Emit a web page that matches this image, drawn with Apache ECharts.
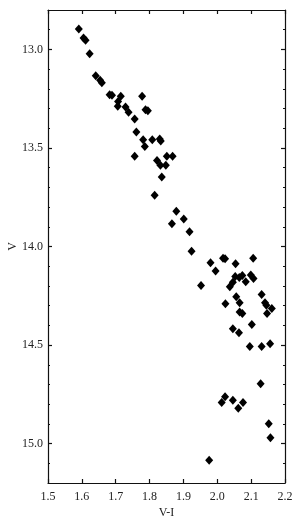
<!DOCTYPE html>
<html>
<head>
<meta charset="utf-8">
<script src="https://cdn.jsdelivr.net/npm/echarts@6/dist/echarts.min.js"></script>
<style>html,body{margin:0;padding:0;background:#fff;}#c{width:299px;height:524px;}</style>
</head>
<body>
<div id="c"></div>
<script>
var colorVI = [1.591,1.605,1.611,1.623,1.641,1.654,1.659,1.682,1.689,1.715,1.707,1.706,1.729,1.738,1.756,1.761,1.778,1.788,1.795,1.781,1.786,1.756,1.808,1.830,1.833,1.822,1.832,1.848,1.851,1.868,1.836,1.815,1.879,1.901,1.866,1.918,1.924,1.952,1.980,1.995,2.017,2.023,2.054,2.106,2.037,2.046,2.053,2.065,2.074,2.084,2.099,2.107,2.056,2.024,2.066,2.066,2.074,2.131,2.141,2.145,2.161,2.147,2.102,2.046,2.064,2.096,2.131,2.156,2.128,2.023,2.013,2.046,2.076,2.062,2.152,2.157,1.976];
var magV = [12.897,12.942,12.954,13.022,13.133,13.156,13.169,13.230,13.233,13.238,13.264,13.289,13.292,13.319,13.353,13.419,13.238,13.306,13.311,13.458,13.492,13.542,13.458,13.455,13.465,13.564,13.588,13.588,13.542,13.542,13.647,13.740,13.821,13.860,13.885,13.925,14.024,14.198,14.083,14.124,14.059,14.062,14.088,14.059,14.204,14.181,14.152,14.157,14.147,14.179,14.144,14.162,14.255,14.290,14.285,14.332,14.340,14.243,14.286,14.298,14.314,14.340,14.396,14.417,14.437,14.508,14.508,14.494,14.697,14.762,14.791,14.780,14.792,14.821,14.899,14.970,15.085];
var yMajorTicks = [13.0,13.5,14.0,14.5,15.0];
var yMinorTicks = [12.9,13.1,13.2,13.3,13.4,13.6,13.7,13.8,13.9,14.1,14.2,14.3,14.4,14.6,14.7,14.8,14.9,15.1];

var pts = colorVI.map(function(x,i){return [x, magV[i]];});
var font = 'Liberation Serif';
var lineStyle = {color:'#111', width:1.2};
var chart = echarts.init(document.getElementById('c'), null, {renderer:'canvas'});
chart.setOption({
  backgroundColor:'#fff',
  animation:false,
  grid:{left:48, right:14, top:10, bottom:41, outerBoundsMode:'none', containLabel:false},
  xAxis:[
    {type:'value', min:1.5, max:2.2, interval:0.1, position:'bottom',
     name:'V-I', nameLocation:'middle', nameGap:24, nameMoveOverlap:false,
     nameTextStyle:{fontFamily:font, fontSize:12, color:'#222'},
     axisLine:{show:true, lineStyle:lineStyle},
     axisTick:{show:true, inside:true, length:4, lineStyle:lineStyle},
     axisLabel:{fontFamily:font, fontSize:12, color:'#222', margin:8, formatter:function(v){return v.toFixed(1);}},
     splitLine:{show:false}},
    {type:'value', min:1.5, max:2.2, interval:0.1, position:'top',
     axisLine:{show:true, lineStyle:lineStyle},
     axisTick:{show:true, inside:true, length:4, lineStyle:lineStyle},
     axisLabel:{show:false}, splitLine:{show:false}}
  ],
  yAxis:[
    {type:'value', min:12.8, max:15.2, inverse:true, position:'left',
     name:'V', nameLocation:'middle', nameGap:29, nameRotate:90, nameMoveOverlap:false,
     nameTextStyle:{fontFamily:font, fontSize:12, color:'#222'},
     axisLine:{show:true, lineStyle:lineStyle},
     axisTick:{show:true, inside:true, length:4, customValues:yMajorTicks, lineStyle:lineStyle},
     axisLabel:{fontFamily:font, fontSize:12, color:'#222', margin:5, customValues:yMajorTicks, formatter:function(v){return v.toFixed(1);}},
     splitLine:{show:false}},
    {type:'value', min:12.8, max:15.2, inverse:true, position:'left',
     axisLine:{show:false},
     axisTick:{show:true, inside:true, length:2, customValues:yMinorTicks, lineStyle:lineStyle},
     axisLabel:{show:false}, splitLine:{show:false}},
    {type:'value', min:12.8, max:15.2, inverse:true, position:'right',
     axisLine:{show:true, lineStyle:lineStyle},
     axisTick:{show:true, inside:true, length:4, customValues:yMajorTicks, lineStyle:lineStyle},
     axisLabel:{show:false}, splitLine:{show:false}},
    {type:'value', min:12.8, max:15.2, inverse:true, position:'right',
     axisLine:{show:false},
     axisTick:{show:true, inside:true, length:2, customValues:yMinorTicks, lineStyle:lineStyle},
     axisLabel:{show:false}, splitLine:{show:false}}
  ],
  series:[{
    type:'scatter', xAxisIndex:0, yAxisIndex:0,
    symbol:'diamond', symbolSize:[8,9],
    itemStyle:{color:'#000', opacity:1},
    data:pts
  }]
});
</script>
</body>
</html>
